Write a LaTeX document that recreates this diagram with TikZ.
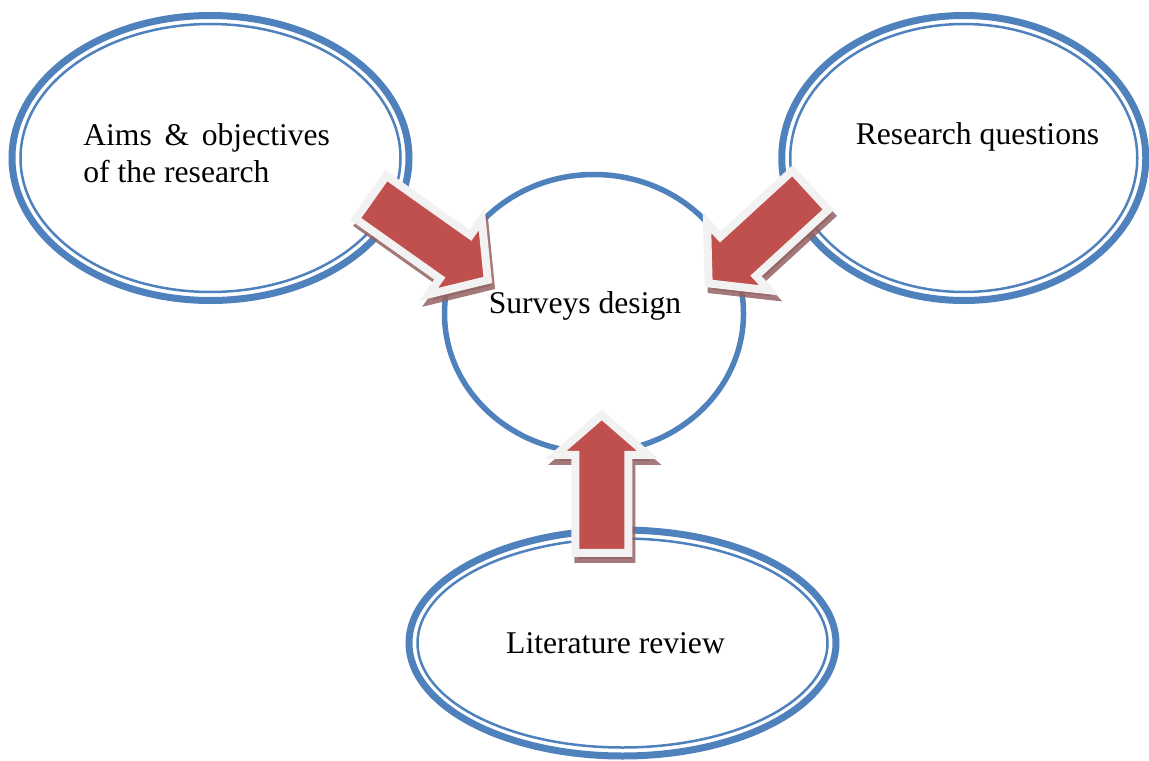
\documentclass[tikz,border=0pt]{standalone}
\usepackage{fontspec}
\setmainfont{Liberation Serif}
\usepackage{xcolor}
\definecolor{cMain}{HTML}{4F81BD}
\definecolor{cArrow}{HTML}{C0504D}
\definecolor{cRim}{HTML}{F2F2F2}
\definecolor{cShade}{HTML}{946262}
\usepackage{tikz}
\usetikzlibrary{positioning,shapes.geometric,shapes.arrows,calc}
\tikzset{
  node-oval/.style={draw=cMain,line width=1.4mm,ellipse,inner sep=0pt},
  node-ring/.style={draw=cMain,line width=1.1mm,ellipse,inner sep=0pt},
  node-text/.style={font=\fontsize{18}{21}\selectfont,inner sep=0pt},
  oval-inner/.style={draw=cMain,line width=0.5mm},
  % block arrows: red body, light rim, soft shadow below
  block-arrow/.style={single arrow,fill=cArrow,draw=cRim,line width=1.6mm,
    minimum width=0pt,inner sep=0pt,inner ysep=4.5mm,
    single arrow head extend=3.9mm,single arrow tip angle=98,
    preaction={fill=cShade,draw=cShade,opacity=.85,
      transform canvas={xshift=0.6mm,yshift=-1.2mm}}},
}

\begin{document}
\begin{tikzpicture}
  \useasboundingbox (0,0) rectangle (22.98,15.2);
  % the three inputs and the centre
  \node[node-oval,minimum width=7.94cm,minimum height=5.7cm] (aims) at (4.21,12.04) {};
  \draw[oval-inner] (aims.center) ellipse [x radius=3.80cm,y radius=2.68cm];
  \node[node-oval,minimum width=7.28cm,minimum height=5.7cm] (rq) at (19.275,12.04) {};
  \draw[oval-inner] (rq.center) ellipse [x radius=3.47cm,y radius=2.68cm];
  \node[node-oval,minimum width=8.54cm,minimum height=4.52cm] (lit) at (12.45,2.34) {};
  \draw[oval-inner] (lit.center) ellipse [x radius=4.10cm,y radius=2.09cm];
  \node[node-ring,minimum width=5.98cm,minimum height=5.56cm] (survey) at (11.88,8.93) {};

  \node[node-text,anchor=west,align=left] (aimsText) at (1.66,12.14)
    {Aims\hspace{0.4em}\&\hspace{0.4em}objectives\\of the research};
  \node[node-text,anchor=base] (rqText) at (19.55,12.30) {Research questions};
  \node[node-text,anchor=base] (surveyText) at (11.70,8.94) {Surveys design};
  \node[node-text,anchor=base] (litText) at (12.31,2.134) {Literature review};

  % arrows into the survey design
  \node[block-arrow,minimum height=2.86cm,rotate=-35.3] (arrAims) at (8.40,10.56) {};
  \node[block-arrow,minimum height=2.76cm,rotate=-137.5] (arrRq) at (15.36,10.62) {};
  \node[block-arrow,minimum height=2.76cm,rotate=90] (arrLit) at (12.035,5.29) {};
\end{tikzpicture}
\end{document}
